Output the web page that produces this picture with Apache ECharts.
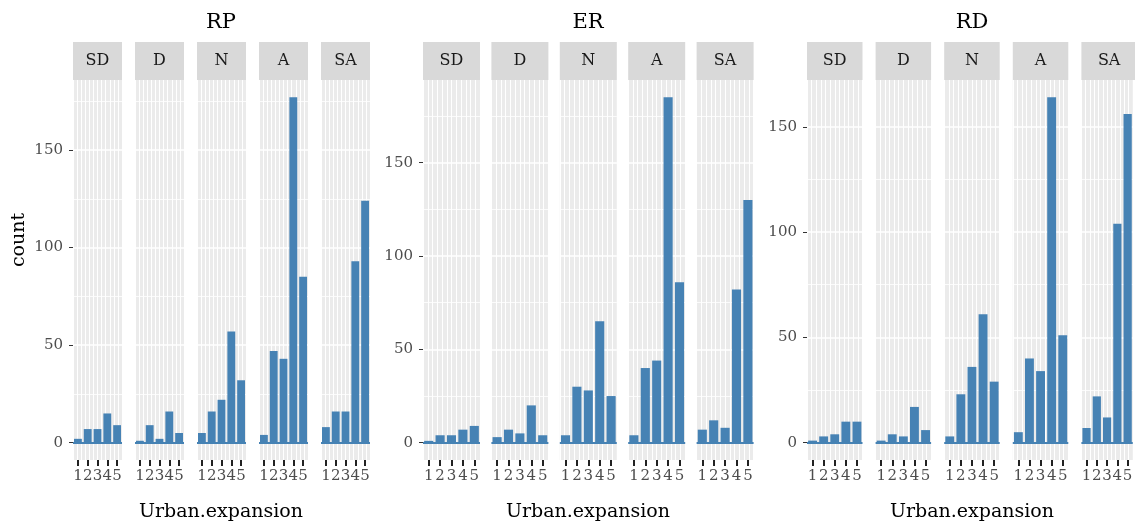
<!DOCTYPE html>
<html>
<head>
<meta charset="utf-8">
<script src="https://cdn.jsdelivr.net/npm/echarts@6/dist/echarts.min.js"></script>
<style>html,body{margin:0;padding:0;background:#fff}#c{width:1135px;height:525px}</style>
</head>
<body>
<div id="c"></div>
<script>
// ---- data ----
const groups = ['RP', 'ER', 'RD'];
const facets = ['SD', 'D', 'N', 'A', 'SA'];
const levels = ['1', '2', '3', '4', '5'];
const RP_COUNTS = [[2,7,7,15,9],[1,9,2,16,5],[5,16,22,57,32],[4,47,43,177,85],[8,16,16,93,124]];
const ER_COUNTS = [[1,4,4,7,9],[3,7,5,20,4],[4,30,28,65,25],[4,40,44,185,86],[7,12,8,82,130]];
const RD_COUNTS = [[1,3,4,10,10],[1,4,3,17,6],[3,23,36,61,29],[5,40,34,164,51],[7,22,12,104,156]];
const yMajorTicks = [0, 50, 100, 150];
const yMinorTicks = [25, 75, 125, 175];
const xAxisTitle = 'Urban.expansion';
const yAxisTitle = 'count';

// ---- layout / style ----
const counts = [RP_COUNTS, ER_COUNTS, RD_COUNTS];
const layout = [
  {left0: 73, w: 49, step: 62, titleX: 221},
  {left0: 423, w: 57, step: 68.4, titleX: 588},
  {left0: 807, w: 55.5, step: 68.6, titleX: 972}
];
const PANEL_TOP = 80, PANEL_H = 380, STRIP_TOP = 42, STRIP_H = 38;
const BAR = '#4682B4';
const SERIF = '"DejaVu Serif", serif';

const grid = [], xAxis = [], yAxis = [], series = [], graphic = [];
groups.forEach((g, gi) => {
  const L = layout[gi];
  let gmax = 0;
  counts[gi].forEach(a => a.forEach(v => { if (v > gmax) gmax = v; }));
  const ymin = -0.05 * gmax, ymax = 1.05 * gmax;
  facets.forEach((f, fi) => {
    const idx = grid.length;
    const left = L.left0 + fi * L.step;
    grid.push({left: left, top: PANEL_TOP, width: L.w, height: PANEL_H, show: true,
      backgroundColor: '#EBEBEB', borderWidth: 0, containLabel: false});
    xAxis.push({type: 'category', gridIndex: idx, data: levels, boundaryGap: true, position: 'bottom',
      axisLine: {show: true, onZero: false, lineStyle: {color: 'rgba(0,0,0,0)', width: 0}},
      axisTick: {show: true, alignWithLabel: true, length: 6, lineStyle: {color: '#222222', width: 2}},
      axisLabel: {show: true, interval: 0, margin: 9, color: '#4D4D4D', fontFamily: SERIF, fontSize: 15},
      splitLine: {show: false}});
    xAxis.push({type: 'value', gridIndex: idx, min: 0, max: 12, interval: 1, show: true, position: 'top',
      axisLine: {show: false, onZero: false}, axisTick: {show: false}, axisLabel: {show: false},
      splitLine: {show: true, lineStyle: {color: '#FFFFFF', width: 1}}});
    const first = fi === 0;
    yAxis.push({type: 'value', gridIndex: idx, min: ymin, max: ymax,
      axisLine: {show: false, onZero: false},
      axisTick: {show: first, length: 4, lineStyle: {color: '#333'}, customValues: yMajorTicks},
      axisLabel: {show: first, margin: 10, color: '#4D4D4D', fontFamily: SERIF, fontSize: 15, customValues: yMajorTicks},
      splitLine: {show: false}});
    const mlData = yMinorTicks.map(v => ({yAxis: v, lineStyle: {color: '#FFFFFF', width: 0.8, type: 'solid'}}))
      .concat(yMajorTicks.map(v => ({yAxis: v, lineStyle: {color: '#FFFFFF', width: 1.6, type: 'solid'}})))
      .concat([{yAxis: 0, lineStyle: {color: BAR, width: 2, type: 'solid'}}]);
    series.push({type: 'bar', name: g + ' ' + f, xAxisIndex: 2 * idx, yAxisIndex: idx,
      data: counts[gi][fi], barWidth: '80%', itemStyle: {color: BAR}, z: 3,
      markLine: {silent: true, symbol: ['none', 'none'], z: 1, animation: false,
        label: {show: false}, data: mlData}});
    // strip
    graphic.push({type: 'rect', shape: {x: left, y: STRIP_TOP, width: L.w, height: STRIP_H},
      style: {fill: '#D9D9D9'}, silent: true});
    graphic.push({type: 'text', x: left + L.w / 2, y: STRIP_TOP + STRIP_H / 2,
      style: {text: f, fill: '#1A1A1A', font: '16px ' + SERIF, align: 'center', verticalAlign: 'middle'}, silent: true});
  });
  graphic.push({type: 'text', x: L.titleX, y: 23,
    style: {text: g, fill: '#000', font: '21px ' + SERIF, align: 'center', verticalAlign: 'middle'}, silent: true});
  graphic.push({type: 'text', x: L.titleX, y: 512,
    style: {text: xAxisTitle, fill: '#000', font: '19px ' + SERIF, align: 'center', verticalAlign: 'middle'}, silent: true});
});
graphic.push({type: 'text', x: 19, y: 240, rotation: Math.PI / 2,
  style: {text: yAxisTitle, fill: '#000', font: '19px ' + SERIF, align: 'center', verticalAlign: 'middle'}, silent: true});

const chart = echarts.init(document.getElementById('c'), null, {renderer: 'canvas'});
chart.setOption({animation: false, backgroundColor: '#fff', grid, xAxis, yAxis, series, graphic});
</script>
</body>
</html>
